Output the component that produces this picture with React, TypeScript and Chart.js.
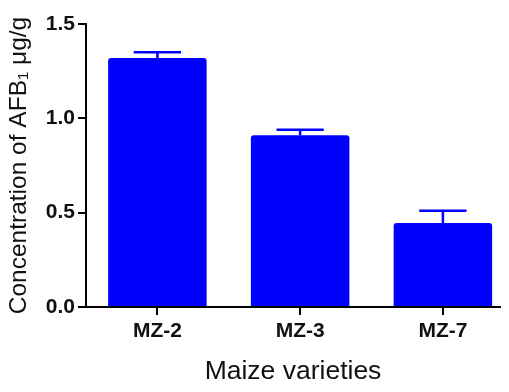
import React, { useEffect, useRef } from "react";
import { Chart, registerables } from "chart.js";

Chart.register(...registerables);

const categories: string[] = ["MZ-2", "MZ-3", "MZ-7"];
const values: number[] = [1.32, 0.91, 0.445];
const errors: number[] = [0.03, 0.03, 0.065];
const yTicks: number[] = [0, 0.5, 1.0, 1.5];

const BAR_COLOR = "#0000FF";
const FONT = "Arial, 'Liberation Sans', Helvetica, sans-serif";

const errorBarPlugin = {
  id: "errorBars",
  afterDatasetsDraw(chart: any) {
    const { ctx, scales } = chart;
    const y = scales.y;
    const meta = chart.getDatasetMeta(0);
    ctx.save();
    ctx.strokeStyle = BAR_COLOR;
    ctx.lineWidth = 2.5;
    meta.data.forEach((bar: any, i: number) => {
      const cx = bar.x;
      const top = y.getPixelForValue(values[i]);
      const errTop = y.getPixelForValue(values[i] + errors[i]);
      const half = bar.width * 0.24;
      ctx.beginPath();
      ctx.moveTo(cx, top);
      ctx.lineTo(cx, errTop);
      ctx.moveTo(cx - half, errTop);
      ctx.lineTo(cx + half, errTop);
      ctx.stroke();
    });
    ctx.restore();
  },
};

export default function App() {
  const canvasRef = useRef<HTMLCanvasElement | null>(null);

  useEffect(() => {
    if (!canvasRef.current) return;
    const chart = new Chart(canvasRef.current, {
      type: "bar",
      data: {
        labels: categories,
        datasets: [
          {
            data: values.map((v, i) => ({ x: i, y: v })) as any,
            backgroundColor: BAR_COLOR,
            borderWidth: 0,
            borderRadius: 3,
            barPercentage: 0.69,
            categoryPercentage: 1,
          },
        ],
      },
      options: {
        responsive: false,
        animation: false,
        layout: { padding: { top: 24, right: 9, left: 0, bottom: 0 } },
        plugins: {
          legend: { display: false },
          tooltip: { enabled: false },
        },
        scales: {
          x: {
            type: "linear",
            offset: false,
            min: -0.5,
            max: 2.4,
            afterBuildTicks: (scale: any) => {
              scale.ticks = categories.map((_, i) => ({ value: i }));
            },
            afterFit: (scale: any) => {
              scale.height = 85;
            },
            grid: {
              offset: false,
              drawOnChartArea: false,
              drawTicks: true,
              tickLength: 8,
              color: "#000",
              lineWidth: 2,
            },
            border: { display: true, color: "#000", width: 2 },
            ticks: {
              padding: 4,
              color: "#111",
              font: { family: FONT, size: 21, weight: "bold" },
              callback: (v: any) => categories[Number(v)] ?? "",
              maxRotation: 0,
            },
            title: {
              display: true,
              text: "Maize varieties",
              color: "#111",
              font: { family: FONT, size: 26.5, weight: "normal" },
              padding: { top: 0, bottom: 4 },
            },
          },
          y: {
            min: 0,
            max: 1.5,
            afterBuildTicks: (scale: any) => {
              scale.ticks = yTicks.map((v) => ({ value: v }));
            },
            afterFit: (scale: any) => {
              scale.width = 86;
            },
            grid: {
              drawOnChartArea: false,
              drawTicks: true,
              tickLength: 8,
              color: "#000",
              lineWidth: 2,
            },
            border: { display: true, color: "#000", width: 2 },
            ticks: {
              padding: 3,
              color: "#111",
              font: { family: FONT, size: 21, weight: "bold" },
              callback: (v: any) => Number(v).toFixed(1),
            },
            title: {
              display: true,
              text: "Concentration of AFB₁ μg/g",
              color: "#111",
              font: { family: FONT, size: 24.5, weight: "normal" },
              padding: { top: 5, bottom: 0 },
            },
          },
        },
      },
      plugins: [errorBarPlugin],
    });
    return () => chart.destroy();
  }, []);

  return (
    <div style={{ position: "fixed", left: 0, top: 0, width: 509, height: 392, background: "#fff" }}>
      <canvas ref={canvasRef} width={509} height={392} style={{ display: "block" }} />
    </div>
  );
}
